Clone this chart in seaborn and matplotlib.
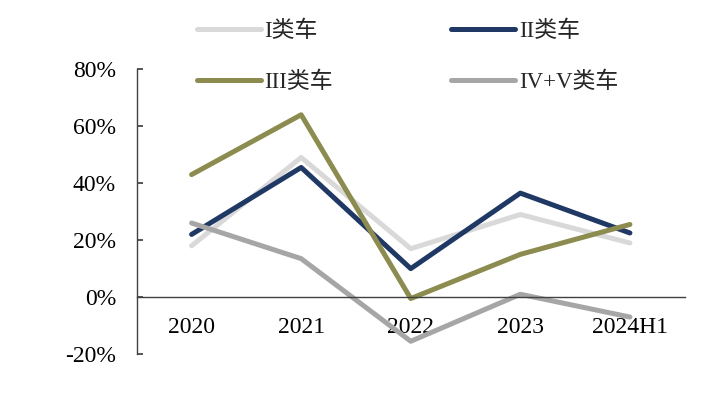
import numpy as np
import pandas as pd
import matplotlib
matplotlib.use("Agg")
import matplotlib.pyplot as plt
import seaborn as sns

# values (growth, %)
years = ["2020", "2021", "2022", "2023", "2024H1"]
series_names = ["I类车", "II类车", "III类车", "IV+V类车"]
class_1 = [18, 49, 17, 29, 19]
class_2 = [22, 45.5, 10, 36.5, 22.5]
class_3 = [43, 64, -0.5, 15, 25.5]
class_45 = [26, 13.5, -15.5, 1, -7]
colors = ["#d9d9d9", "#1f3864", "#8c8c50", "#a6a6a6"]
y_ticks = [-20, 0, 20, 40, 60, 80]

sns.set_theme(style="white")
plt.rcParams["font.family"] = ["Liberation Serif", "Noto Sans CJK SC"]

df = pd.DataFrame({
    "year": years * 4,
    "value": class_1 + class_2 + class_3 + class_45,
    "series": np.repeat(series_names, len(years)),
})

fig = plt.figure(figsize=(7.2, 3.93), dpi=100)
ax = fig.add_axes([0.19, 0.099, 0.761, 0.725])

sns.lineplot(data=df, x="year", y="value", hue="series", hue_order=series_names,
             palette=colors, sort=False, linewidth=3.6, ax=ax, legend=True)

ax.set_xlim(-0.5, len(years) - 0.5)
ax.set_ylim(-20, 80)
ax.set_yticks(y_ticks)
ax.set_yticklabels([f"{t}%" for t in y_ticks])
ax.set_xticks(range(len(years)))
ax.set_xticklabels(years)
ax.set_xlabel("")
ax.set_ylabel("")

# category boundary ticks on the zero line
ax.set_xticks(np.arange(len(years)) + 0.5, minor=True)
ax.tick_params(axis="x", which="major", length=0, pad=14, labelsize=17, colors="black")
ax.tick_params(axis="x", which="minor", direction="in", length=4, color="#404040", width=1)
ax.tick_params(axis="y", direction="in", length=4, pad=15, labelsize=17,
               color="#404040", labelcolor="black", left=True)

for side in ["top", "right"]:
    ax.spines[side].set_visible(False)
ax.spines["bottom"].set_position(("data", 0))
ax.spines["left"].set_color("#404040")
ax.spines["bottom"].set_color("#404040")
ax.spines["left"].set_linewidth(1)
ax.spines["bottom"].set_linewidth(1)

handles, labels = ax.get_legend_handles_labels()
ax.get_legend().remove()
# legend fills column-wise: reorder so rows read I, II / III, IV+V
order = [0, 2, 1, 3]
fig.legend([handles[i] for i in order], [labels[i] for i in order], ncol=2,
           loc="upper left", bbox_to_anchor=(0.245, 1.0), frameon=False, fontsize=16.5,
           handlelength=2.8, handletextpad=0.15, columnspacing=5.15, labelspacing=1.3)

fig.savefig("out.png", dpi=100)
